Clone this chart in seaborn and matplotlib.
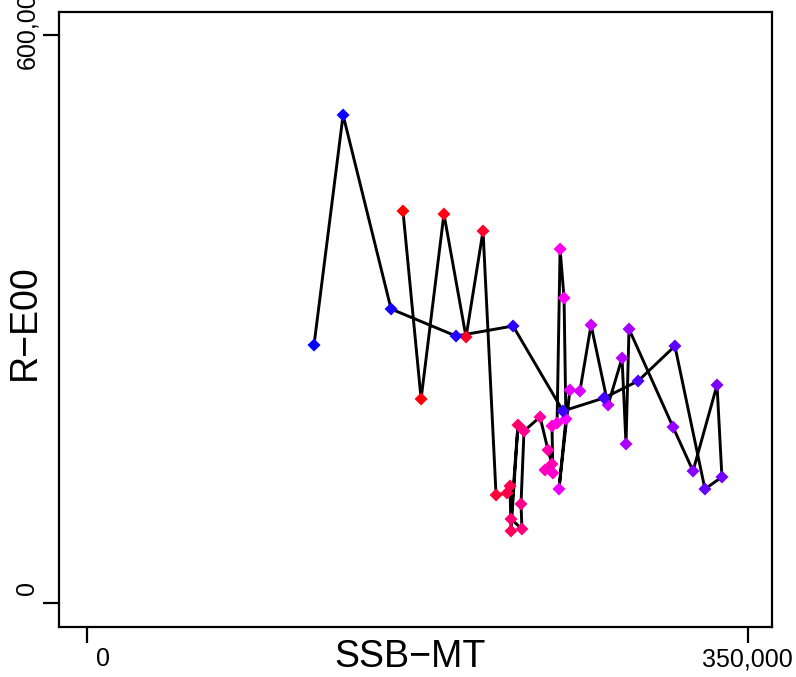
import colorsys
import numpy as np
import pandas as pd
import matplotlib
matplotlib.use("Agg")
import matplotlib.pyplot as plt
import seaborn as sns
from matplotlib.transforms import ScaledTranslation

# ---- data (in time order, connected by the line) ----
ssb = [167300, 176900, 189000, 200700, 209700, 216600, 222400, 224000, 224500,
       228200, 224500, 230300, 229800, 231400, 239900, 244100, 246200, 242500,
       246700, 246200, 248900, 250500, 252600, 253600, 249900, 255700, 261000,
       266900, 275900, 283300, 285400, 287000, 310300, 320900, 333600, 336200,
       327200, 311300, 291800, 273800, 252000, 225600, 195400, 161000, 135600,
       120200]
rec = [414100, 215500, 410900, 281000, 393000, 114100, 116200, 123600, 76100,
       188000, 88700, 78200, 104600, 181700, 196500, 161600, 146800, 140500,
       137300, 187000, 190100, 373900, 322200, 194400, 120400, 225000, 223900,
       293700, 209200, 258800, 168000, 289400, 185900, 139400, 230300, 133100,
       120400, 271500, 234500, 216600, 202800, 292600, 282000, 310600, 515500,
       272500]
x_ticks = [0, 350000]
x_ticklabels = ["0", "350,000"]
y_ticks = [0, 600000]
y_ticklabels = ["0", "600,000"]
x_label = "SSB\u2212MT"
y_label = "R\u2212E00"

n = len(ssb)
df = pd.DataFrame({"ssb": ssb, "rec": rec, "order": list(range(n))})
palette = {i: colorsys.hsv_to_rgb((1.0 - (1 / 3) * i / (n - 1)) % 1.0, 1, 1)
           for i in range(n)}

sns.set_theme(style="white")
plt.rcParams['font.family'] = ['Liberation Sans', 'DejaVu Sans']

fig = plt.figure(figsize=(7.96, 6.77), dpi=100)
ax = fig.add_axes([59 / 796, 1 - 627 / 677, 713 / 796, 615 / 677])

sns.lineplot(data=df, x="ssb", y="rec", sort=False, estimator=None,
             color="black", lw=2.1, ax=ax, zorder=2)
sns.scatterplot(data=df, x="ssb", y="rec", hue="order", palette=palette,
                marker="D", s=44, linewidth=0, legend=False, ax=ax, zorder=3)

ax.set_xlim(-14826, 362708)
ax.set_ylim(-25352, 624297)

ax.set_xticks(x_ticks)
ax.set_xticklabels(x_ticklabels)
ax.set_yticks(y_ticks)
ax.set_yticklabels(y_ticklabels)

for side in ["left", "right", "top", "bottom"]:
    ax.spines[side].set_visible(True)
    ax.spines[side].set_color("black")
    ax.spines[side].set_linewidth(1.6)

ax.tick_params(axis="both", which="major", direction="out", length=11.5,
               width=1.6, color="black", labelsize=18, pad=3,
               bottom=True, left=True, labelcolor="black")
ax.tick_params(axis="y", labelrotation=90)

for lbl in ax.get_yticklabels():
    lbl.set_va("center")

x_off = [16, -1]
for lbl, dx in zip(ax.get_xticklabels(), x_off):
    lbl.set_transform(lbl.get_transform() + ScaledTranslation(dx / 100, 0, fig.dpi_scale_trans))
y_off = [15, 11]
for lbl, dy in zip(ax.get_yticklabels(), y_off):
    lbl.set_transform(lbl.get_transform() + ScaledTranslation(0, dy / 100, fig.dpi_scale_trans))

ax.set_xlabel(x_label, fontsize=27, color="black", va="baseline")
ax.xaxis.set_label_coords((410 - 59) / 713, (627 - 667) / 615)
ax.set_ylabel(y_label, fontsize=27, color="black", va="baseline",
              ha="center", rotation_mode="anchor")
ax.yaxis.set_label_coords((35 - 59) / 713, (627 - 322) / 615)

fig.savefig("out.png", dpi=100)
